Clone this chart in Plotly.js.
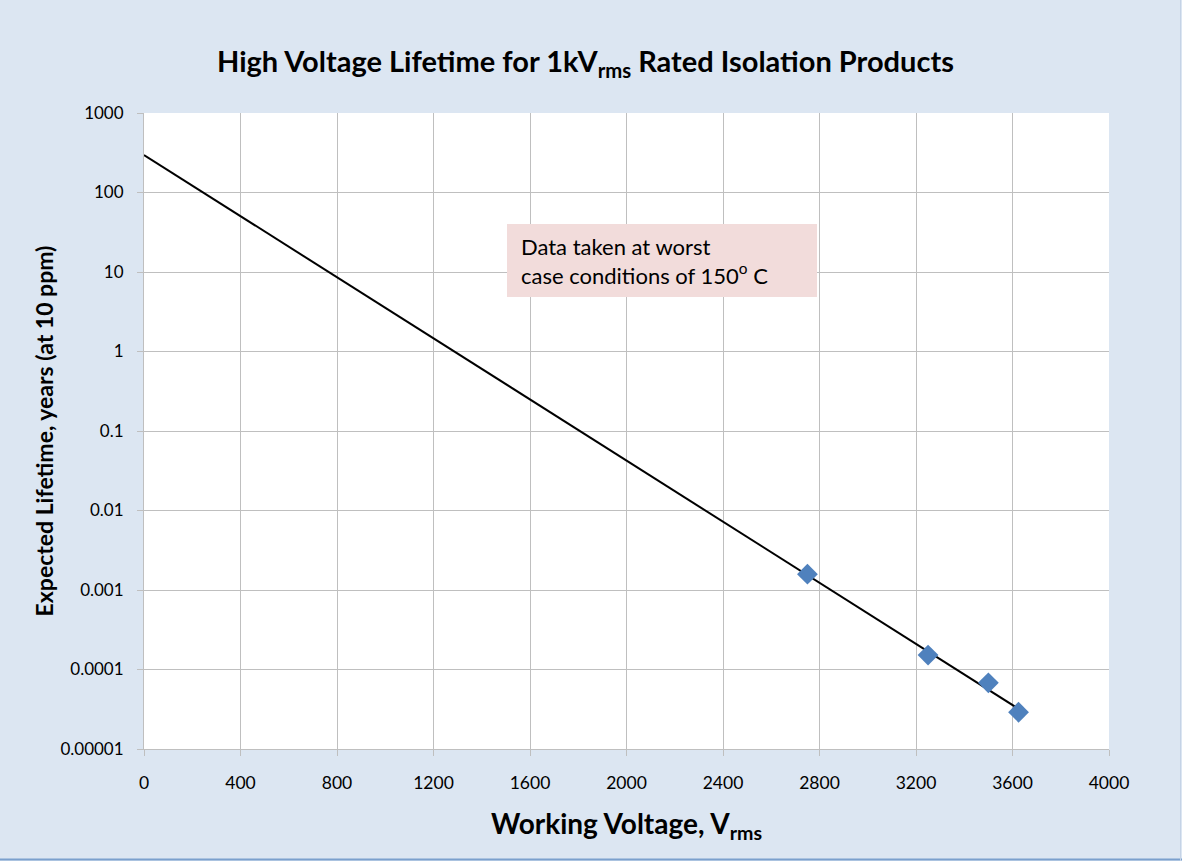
<!DOCTYPE html>
<html>
<head>
<meta charset="utf-8">
<script src="https://cdn.plot.ly/plotly-3.0.1.min.js"></script>
<style>
  html, body { margin: 0; padding: 0; background: #DCE6F2; }
  #chart { width: 1182px; height: 861px; }
</style>
</head>
<body>
<div id="chart"></div>
<script>
// ---- data ----
const voltage = [2750, 3250, 3500, 3625];                 // Working Voltage, Vrms
const lifetime = [0.00158, 0.000152, 0.000068, 0.000029]; // Expected lifetime, years
const trendVoltage = [0, 3625];                           // exponential trendline ends
const trendLifetime = [296, 0.000032];
const yTickVals = [0.00001, 0.0001, 0.001, 0.01, 0.1, 1, 10, 100, 1000];
const yTickText = ["0.00001", "0.0001", "0.001", "0.01", "0.1", "1", "10", "100", "1000"];
const xTickVals = [0, 400, 800, 1200, 1600, 2000, 2400, 2800, 3200, 3600, 4000];

// ---- layout constants ----
const W = 1182, H = 861;
const M = { l: 144, r: 73, t: 113, b: 112 };
const pw = W - M.l - M.r, ph = H - M.t - M.b;
const FONT = "Lato, 'Open Sans', sans-serif";
const px2x = p => (p - M.l) / pw;
const py2y = p => 1 - (p - M.t) / ph;

const traces = [
  {
    x: trendVoltage, y: trendLifetime, type: "scatter", mode: "lines",
    line: { color: "#000000", width: 2 }, hoverinfo: "skip", showlegend: false
  },
  {
    x: voltage, y: lifetime, type: "scatter", mode: "markers",
    marker: { symbol: "diamond", size: 16, color: "#4F81BD" },
    showlegend: false
  }
];

const layout = {
  width: W, height: H,
  margin: M,
  paper_bgcolor: "#DCE6F2",
  plot_bgcolor: "#FFFFFF",
  font: { family: FONT, color: "#000000", size: 17 },
  title: {
    text: "<b>High Voltage Lifetime for 1kV<sub>rms</sub> Rated Isolation Products</b>",
    font: { family: FONT, size: 29, color: "#000000" },
    x: 585.5 / W, xanchor: "center", y: 1 - 62 / H, yanchor: "middle", yref: "container"
  },
  xaxis: {
    range: [0, 4000], tickvals: xTickVals,
    ticks: "outside", ticklen: 6, tickcolor: "#BFBFBF", tickwidth: 1,
    ticklabelstandoff: 12,
    showgrid: true, gridcolor: "#BFBFBF", gridwidth: 1,
    showline: true, linecolor: "#BFBFBF", linewidth: 1,
    zeroline: false,
    tickfont: { family: FONT, size: 17.5, color: "#000000" },
    title: {
      text: "<b>Working Voltage, V<sub>rms</sub></b>",
      font: { family: FONT, size: 28, color: "#000000" },
      standoff: 22
    }
  },
  yaxis: {
    type: "log", range: [-5, 3],
    tickvals: yTickVals, ticktext: yTickText,
    ticks: "outside", ticklen: 6, tickcolor: "#BFBFBF", tickwidth: 1,
    ticklabelstandoff: 10,
    showgrid: true, gridcolor: "#BFBFBF", gridwidth: 1,
    showline: true, linecolor: "#BFBFBF", linewidth: 1,
    zeroline: false,
    tickfont: { family: FONT, size: 17, color: "#000000" },
    title: {
      text: "<b>Expected Lifetime, years (at 10 ppm)</b>",
      font: { family: FONT, size: 23, color: "#000000" },
      standoff: 0
    }
  },
  shapes: [
    { // note box
      type: "rect", xref: "paper", yref: "paper",
      x0: px2x(507), x1: px2x(817), y0: py2y(297), y1: py2y(224),
      fillcolor: "#F2DCDB", line: { width: 0 }, layer: "above"
    },
    { // bottom border of chart area
      type: "line", xref: "paper", yref: "paper",
      x0: px2x(0), x1: px2x(W), y0: py2y(859.5), y1: py2y(859.5),
      line: { color: "#7BA0CD", width: 2 }
    },
    { // right border
      type: "line", xref: "paper", yref: "paper",
      x0: px2x(1180.5), x1: px2x(1180.5), y0: py2y(0), y1: py2y(861),
      line: { color: "#C5D3E6", width: 1 }
    }
  ],
  annotations: [
    {
      xref: "paper", yref: "paper",
      x: px2x(519), y: py2y(261), xanchor: "left", yanchor: "middle",
      align: "left", showarrow: false,
      text: "Data taken at worst<br>case conditions of 150<sup>o</sup> C",
      font: { family: FONT, size: 22, color: "#000000" }
    }
  ]
};

Plotly.newPlot("chart", traces, layout, { displayModeBar: false, staticPlot: true });
</script>
</body>
</html>
